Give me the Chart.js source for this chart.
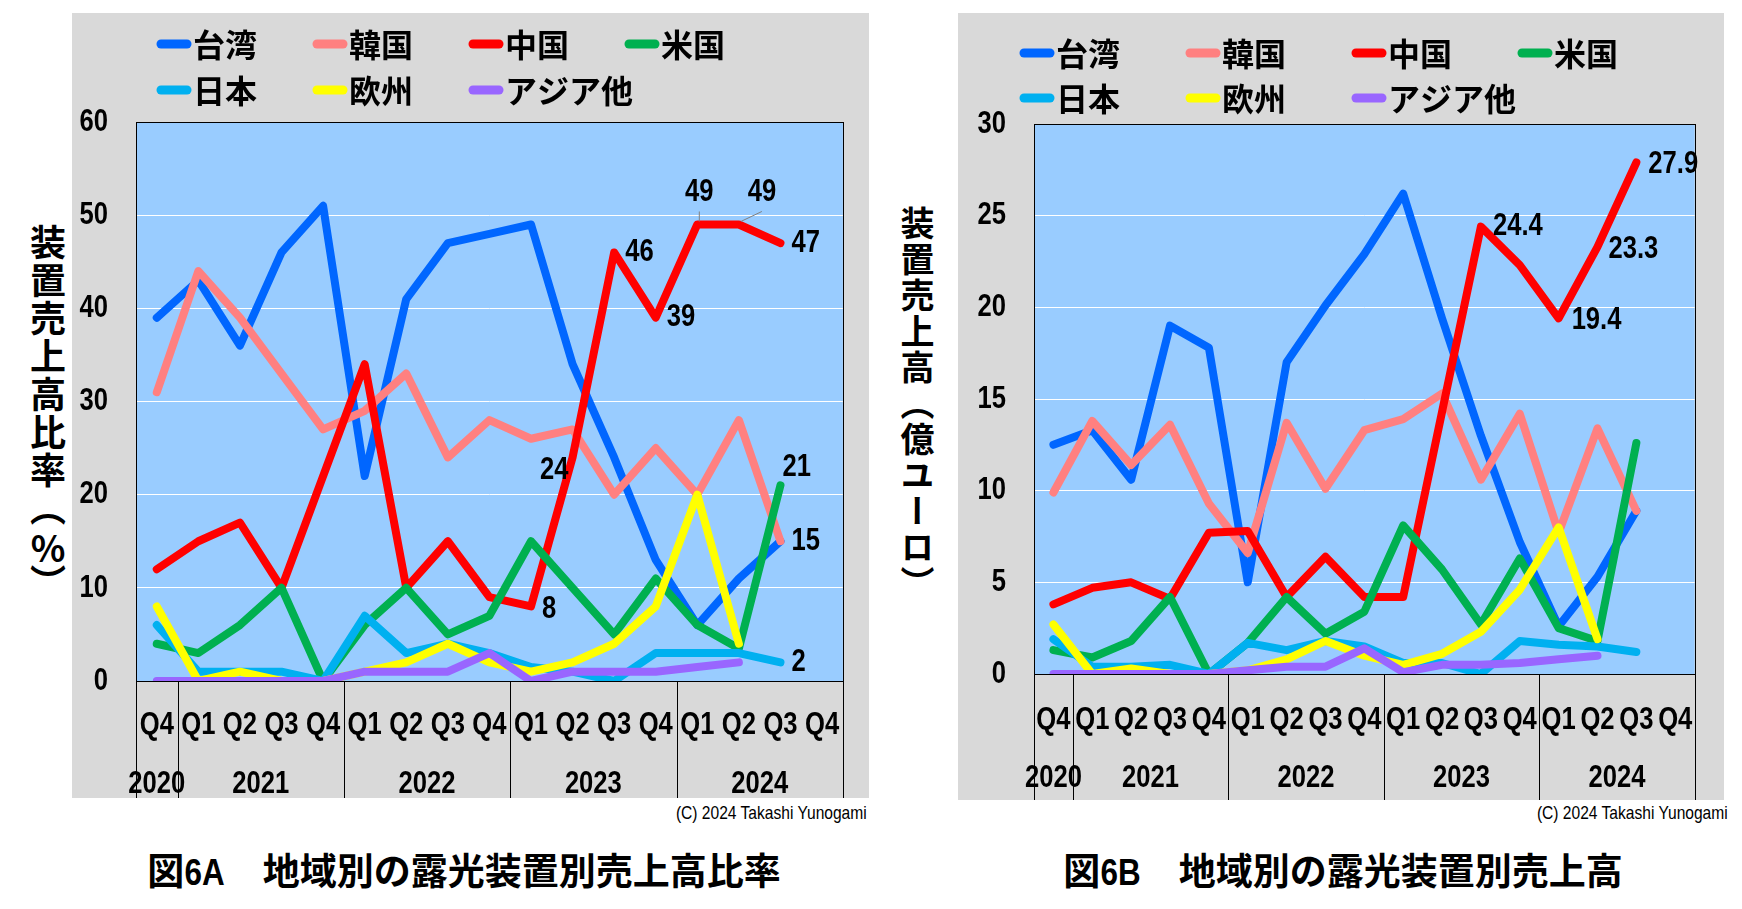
<!DOCTYPE html>
<html>
<head>
<meta charset="utf-8">
<script src="https://cdn.jsdelivr.net/npm/chart.js@4.4.1/dist/chart.umd.min.js"></script>
<style>
  body { margin: 0; background: #fff; width: 1742px; height: 909px; position: relative; overflow: hidden;
         font-family: "Liberation Sans", "Noto Sans CJK JP", sans-serif; }
  .box { position: absolute; background: #d9d9d9; }
  .box canvas { position: absolute; left: 0; top: 0; }
  .ytitle { position: absolute; writing-mode: vertical-rl; text-orientation: mixed; font-weight: bold;
            font-family: "Noto Sans CJK JP", sans-serif; color: #000; white-space: nowrap; }
  .ytitle .up { text-combine-upright: all; }
  .copy { position: absolute; font-size: 19px; color: #000; white-space: nowrap; transform: scaleX(0.82); transform-origin: right center; }
  .title { position: absolute; font-weight: bold; font-size: 37px; color: #000; white-space: nowrap; text-align: center;
           font-family: "Noto Sans CJK JP", sans-serif; }
  .title .n { display: inline-block; font-family: "Liberation Sans", sans-serif; transform: scaleX(0.85); margin: 0 -3px; }
</style>
</head>
<body>
<div class="ytitle" style="left:22px; top:224px; font-size:36px; letter-spacing:2px;">装置売上高比率（<span class="up">%</span>）</div>
<div class="box" style="left:72px; top:13px; width:797px; height:785px;"><canvas id="pctChart" width="797" height="785"></canvas></div>
<div class="copy" style="right:875px; top:802px;">(C) 2024 Takashi Yunogami</div>
<div class="title" style="left:64px; width:800px; top:842px;">図<span class="n">6A</span>　地域別の露光装置別売上高比率</div>

<div class="ytitle" style="left:893px; top:206px; font-size:34px; letter-spacing:2px;">装置売上高（億ユーロ）</div>
<div class="box" style="left:958px; top:13px; width:766px; height:787px;"><canvas id="eurChart" width="766" height="787"></canvas></div>
<div class="copy" style="right:14px; top:802px;">(C) 2024 Takashi Yunogami</div>
<div class="title" style="left:943px; width:800px; top:842px;">図<span class="n">6B</span>　地域別の露光装置別売上高</div>

<script>
// x axis: quarters Q4 2020 .. Q4 2024
const quarters = ['Q4', 'Q1', 'Q2', 'Q3', 'Q4', 'Q1', 'Q2', 'Q3', 'Q4', 'Q1', 'Q2', 'Q3', 'Q4', 'Q1', 'Q2', 'Q3', 'Q4'];
const years = ['2020', '2021', '2022', '2023', '2024'];
const yearFirst = [0, 1, 5, 9, 13];
const yearLast = [0, 4, 8, 12, 16];

const regions = ['台湾', '韓国', '中国', '米国', '日本', '欧州', 'アジア他'];
const colors = ['#0066ff', '#ff8080', '#ff0000', '#00b050', '#00b0f0', '#ffff00', '#9966ff'];

// 図6A: share of sales (%)
const taiwanPct = [39, 43, 36, 46, 51, 22, 41, 47, 48, 49, 34, 24, 13, 6, 11, 15, null];
const koreaPct  = [31, 44, 39, 33, 27, 29, 33, 24, 28, 26, 27, 20, 25, 20, 28, 15, null];
const chinaPct  = [12, 15, 17, 10, 22, 34, 10, 15, 9, 8, 24, 46, 39, 49, 49, 47, null];
const usPct     = [4, 3, 6, 10, 0, 6, 10, 5, 7, 15, 10, 5, 11, 6, 3.5, 21, null];
const japanPct  = [6, 1, 1, 1, 0, 7, 3, 4, 3, 1.5, 1, 0, 3, 3, 3, 2, null];
const europePct = [8, 0, 1, 0, 0, 1, 2, 4, 2, 1, 2, 4, 8, 20, 4, null, null];
const asiaPct   = [0, 0, 0, 0, 0, 1, 1, 1, 3, 0, 1, 1, 1, 1.5, 2, null, null];

// 図6B: sales (100M EUR)
const taiwanEur = [12.5, 13.3, 10.6, 19.0, 17.8, 5.0, 17.0, 20.1, 22.9, 26.2, 19.4, 13.0, 7.2, 2.6, 5.3, 8.9, null];
const koreaEur  = [9.9, 13.8, 11.4, 13.6, 9.3, 6.6, 13.7, 10.1, 13.3, 13.9, 15.3, 10.6, 14.2, 7.7, 13.4, 8.9, null];
const chinaEur  = [3.8, 4.7, 5.0, 4.1, 7.7, 7.8, 4.2, 6.4, 4.2, 4.2, 14.3, 24.4, 22.3, 19.4, 23.3, 27.9, null];
const usEur     = [1.3, 0.9, 1.8, 4.2, 0.0, 1.7, 4.2, 2.2, 3.4, 8.1, 5.7, 2.7, 6.3, 2.5, 1.8, 12.6, null];
const japanEur  = [1.9, 0.4, 0.4, 0.5, 0.0, 1.7, 1.3, 1.8, 1.5, 0.6, 0.6, 0.0, 1.8, 1.6, 1.5, 1.2, null];
const europeEur = [2.7, 0.0, 0.3, 0.0, 0.0, 0.2, 0.8, 1.8, 1.0, 0.5, 1.1, 2.3, 4.6, 8.0, 1.9, null, null];
const asiaEur   = [0, 0, 0, 0, 0, 0.2, 0.4, 0.4, 1.4, 0.1, 0.5, 0.5, 0.6, 0.8, 1.0, null, null];

const LATIN = "'Liberation Sans', Arial, sans-serif";
const CJK = "'Noto Sans CJK JP', sans-serif";
const NARROW_K = 0.8;  // squeeze Latin text like Arial Narrow
const FS = 32;

// all text drawn by the chart gets squeezed horizontally around its anchor
const narrowText = {
  id: 'narrowText',
  afterInit(chart) {
    const ctx = chart.ctx;
    const orig = ctx.fillText;
    ctx.wideFillText = orig;
    ctx.fillText = function (text, x, y) {
      this.save();
      this.scale(NARROW_K, 1);
      orig.call(this, text, x / NARROW_K, y);
      this.restore();
    };
  }
};

// light blue plot area + black frame
const plotFrame = {
  id: 'plotFrame',
  beforeDraw(chart) {
    const { ctx, chartArea: a } = chart;
    ctx.save();
    ctx.fillStyle = '#99ccff';
    ctx.fillRect(a.left, a.top, a.right - a.left, a.bottom - a.top);
    ctx.restore();
  },
  beforeDatasetsDraw(chart) {
    const { ctx, chartArea: a } = chart;
    ctx.save();
    ctx.strokeStyle = '#000';
    ctx.lineWidth = 1;
    ctx.strokeRect(Math.round(a.left) + 0.5, Math.round(a.top) + 0.5, Math.round(a.right - a.left), Math.round(a.bottom - a.top));
    ctx.restore();
  }
};

// year row + separators under the quarter labels
const yearAxis = {
  id: 'yearAxis',
  afterDraw(chart, args, opts) {
    const { ctx, chartArea: a, scales: { x } } = chart;
    const h = chart.height;
    const edge = i => i < 0 ? a.left : (i >= quarters.length - 1 ? a.right : (x.getPixelForValue(i) + x.getPixelForValue(i + 1)) / 2);
    ctx.save();
    ctx.strokeStyle = '#000';
    ctx.lineWidth = 1;
    [-1].concat(yearLast).forEach(i => {
      const px = Math.round(edge(i)) + 0.5;
      ctx.beginPath();
      ctx.moveTo(px, a.bottom);
      ctx.lineTo(px, h);
      ctx.stroke();
    });
    ctx.fillStyle = '#000';
    ctx.font = 'bold ' + FS + 'px ' + LATIN;
    ctx.textAlign = 'center';
    ctx.textBaseline = 'middle';
    years.forEach((y, k) => {
      const cx = (x.getPixelForValue(yearFirst[k]) + x.getPixelForValue(yearLast[k])) / 2;
      ctx.fillText(y, cx, a.bottom + opts.offset);
    });
    ctx.restore();
  }
};

// two-row legend with aligned columns
const gridLegend = {
  id: 'gridLegend',
  afterDraw(chart, args, opts) {
    const ctx = chart.ctx;
    ctx.save();
    ctx.font = 'bold 32px ' + CJK;
    ctx.textBaseline = 'middle';
    ctx.textAlign = 'left';
    ctx.lineCap = 'round';
    chart.data.datasets.forEach((ds, i) => {
      const col = i % opts.perRow, row = Math.floor(i / opts.perRow);
      const x = opts.x + col * opts.colW, y = opts.y + row * opts.rowH;
      ctx.strokeStyle = ds.borderColor;
      ctx.lineWidth = 9;
      ctx.beginPath();
      ctx.moveTo(x + 4, y);
      ctx.lineTo(x + 30, y);
      ctx.stroke();
      ctx.fillStyle = '#000';
      ctx.wideFillText(ds.label, x + 36, y + 1);
    });
    ctx.restore();
  }
};

// value labels next to chosen points
const pointLabels = {
  id: 'pointLabels',
  afterDatasetsDraw(chart, args, opts) {
    const ctx = chart.ctx;
    ctx.save();
    ctx.font = 'bold ' + FS + 'px ' + LATIN;
    ctx.fillStyle = '#000';
    ctx.textBaseline = 'middle';
    opts.items.forEach(it => {
      const el = chart.getDatasetMeta(it.s).data[it.i];
      const v = chart.data.datasets[it.s].data[it.i];
      const text = opts.digits ? v.toFixed(opts.digits) : String(v);
      let x = el.x + (it.dx || 0), y = el.y + (it.dy || 0);
      if (it.pos === 'left') { ctx.textAlign = 'right'; x -= 6; }
      else if (it.pos === 'above') { ctx.textAlign = 'center'; y -= 32; }
      else { ctx.textAlign = 'left'; x += 11; }
      if (it.lead) {
        ctx.strokeStyle = '#808080';
        ctx.lineWidth = 1;
        ctx.beginPath();
        ctx.moveTo(x, y + 19);
        ctx.lineTo(el.x + 2, el.y - 3);
        ctx.stroke();
      }
      ctx.fillText(text, x, y);
    });
    ctx.restore();
  }
};

function makeDatasets(series) {
  return series.map((data, i) => ({
    label: regions[i],
    data: data,
    borderColor: colors[i],
    backgroundColor: colors[i],
    borderWidth: 8,
    borderJoinStyle: 'round',
    borderCapStyle: 'round',
    pointRadius: 0,
    pointHoverRadius: 0,
    tension: 0,
    order: series.length - i
  }));
}

function makeChart(id, series, yMax, yStep, geo, legend, labels, digits) {
  const ctx = document.getElementById(id).getContext('2d');
  return new Chart(ctx, {
    type: 'line',
    data: { labels: quarters, datasets: makeDatasets(series) },
    options: {
      responsive: false,
      animation: false,
      events: [],
      layout: { padding: { top: geo.top, right: geo.right, left: 0, bottom: 0 } },
      scales: {
        x: {
          offset: true,
          grid: { display: false, drawTicks: false },
          border: { display: false },
          ticks: { color: '#000', font: { family: LATIN, size: FS, weight: 'bold' }, padding: geo.xPad, maxRotation: 0, autoSkip: false },
          afterFit: s => { s.height = geo.xH; }
        },
        y: {
          min: 0, max: yMax,
          grid: { color: '#ffffff', lineWidth: 1, drawTicks: false },
          border: { display: false },
          ticks: { stepSize: yStep, color: '#000', font: { family: LATIN, size: FS, weight: 'bold' }, padding: 28 },
          afterFit: s => { s.width = geo.yW; }
        }
      },
      plugins: {
        legend: { display: false },
        tooltip: { enabled: false },
        gridLegend: legend,
        yearAxis: { offset: geo.yearOff },
        pointLabels: { items: labels, digits: digits }
      }
    },
    plugins: [narrowText, plotFrame, yearAxis, gridLegend, pointLabels]
  });
}

makeChart('pctChart',
  [taiwanPct, koreaPct, chinaPct, usPct, japanPct, europePct, asiaPct],
  60, 10,
  { top: 109, right: 21, yW: 64, xH: 117, xPad: 25, yearOff: 103 },
  { x: 85, y: 31, colW: 156, rowH: 46, perRow: 4 },
  [
    { s: 2, i: 9, pos: 'right', dy: 3 },
    { s: 2, i: 10, pos: 'left', dx: 2, dy: 13 },
    { s: 2, i: 11, pos: 'right' },
    { s: 2, i: 12, pos: 'right' },
    { s: 2, i: 13, pos: 'above', dx: 2, lead: true },
    { s: 2, i: 14, pos: 'above', dx: 23, lead: true },
    { s: 2, i: 15, pos: 'right' },
    { s: 0, i: 15, pos: 'right' },
    { s: 3, i: 15, pos: 'right', dx: -9, dy: -18 },
    { s: 4, i: 15, pos: 'right' }
  ], 0);

makeChart('eurChart',
  [taiwanEur, koreaEur, chinaEur, usEur, japanEur, europeEur, asiaEur],
  30, 5,
  { top: 111, right: 15, yW: 76, xH: 126, xPad: 27, yearOff: 104 },
  { x: 62, y: 40, colW: 166, rowH: 45, perRow: 4 },
  [
    { s: 2, i: 11, pos: 'right', dx: 1 },
    { s: 2, i: 13, pos: 'right', dx: 2, dy: 2 },
    { s: 2, i: 14, pos: 'right', dy: 2 },
    { s: 2, i: 15, pos: 'right', dx: 1, dy: 2 }
  ], 1);
</script>
</body>
</html>
